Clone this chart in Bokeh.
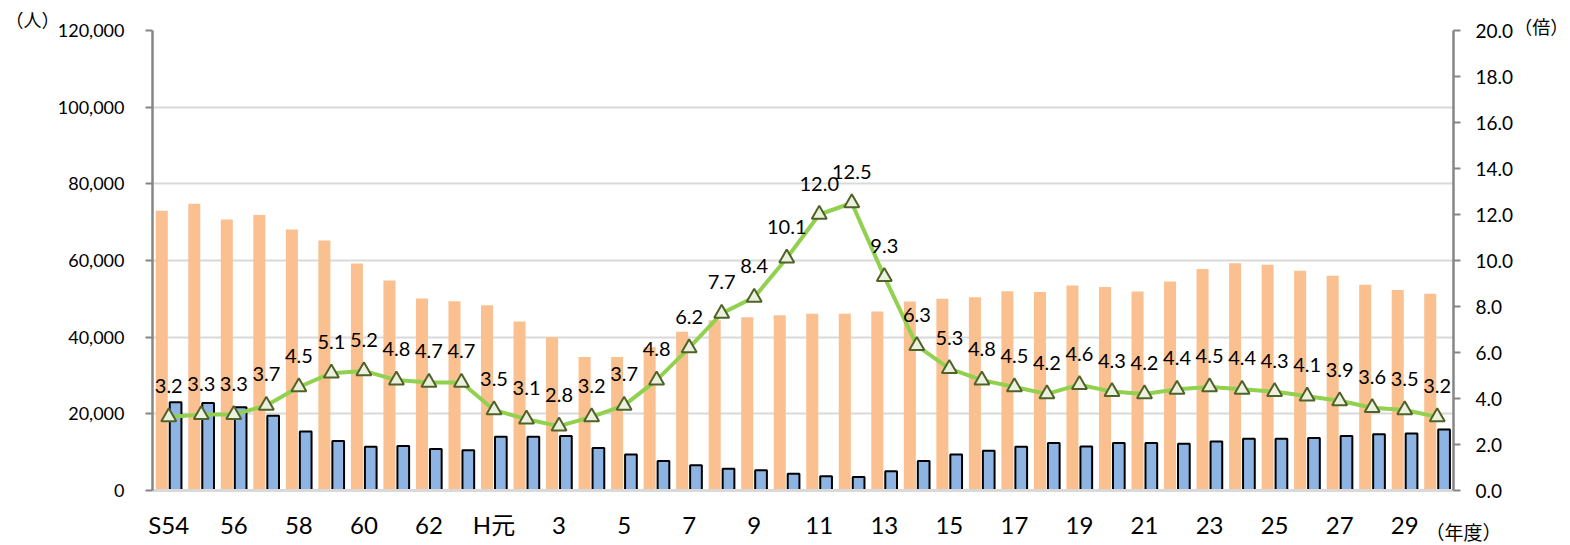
from bokeh.plotting import figure
from bokeh.models import (Range1d, LinearAxis, FixedTicker, NumeralTickFormatter,
                          PrintfTickFormatter, ColumnDataSource, LabelSet, Label)
from bokeh.core.properties import value
from bokeh.embed import file_html
from bokeh.resources import INLINE

# ---- data ----
years = ["S54", "S55", "S56", "S57", "S58", "S59", "S60", "S61", "S62", "S63",
         "H元", "H2", "H3", "H4", "H5", "H6", "H7", "H8", "H9", "H10",
         "H11", "H12", "H13", "H14", "H15", "H16", "H17", "H18", "H19", "H20",
         "H21", "H22", "H23", "H24", "H25", "H26", "H27", "H28", "H29", "H30"]
tick_labels = ["S54", "56", "58", "60", "62", "H元", "3", "5", "7", "9",
               "11", "13", "15", "17", "19", "21", "23", "25", "27", "29"]
applicants = [73000, 74800, 70700, 71900, 68100, 65200, 59200, 54800, 50100, 49400,
              48300, 44100, 40000, 34800, 34800, 37400, 41400, 44400, 45200, 45700,
              46100, 46100, 46700, 49300, 50000, 50400, 52000, 51800, 53500, 53100,
              51900, 54500, 57800, 59300, 58900, 57300, 56000, 53700, 52300, 51300]
recruited = [23000, 22800, 21700, 19500, 15400, 12900, 11400, 11600, 10800, 10500,
             14000, 14000, 14200, 11100, 9400, 7700, 6600, 5700, 5300, 4400,
             3700, 3500, 5000, 7700, 9400, 10400, 11400, 12400, 11500, 12400,
             12400, 12200, 12800, 13500, 13500, 13700, 14200, 14700, 14900, 15900]
ratio = [3.2, 3.3, 3.3, 3.7, 4.5, 5.1, 5.2, 4.8, 4.7, 4.7,
         3.5, 3.1, 2.8, 3.2, 3.7, 4.8, 6.2, 7.7, 8.4, 10.1,
         12.0, 12.5, 9.3, 6.3, 5.3, 4.8, 4.5, 4.2, 4.6, 4.3,
         4.2, 4.4, 4.5, 4.4, 4.3, 4.1, 3.9, 3.6, 3.5, 3.2]
left_ticks = [0, 20000, 40000, 60000, 80000, 100000, 120000]
right_ticks = [0, 2, 4, 6, 8, 10, 12, 14, 16, 18, 20]

idx = list(range(len(years)))
src = ColumnDataSource(dict(
    x=idx,
    xo=[i - 0.215 for i in idx],
    xb=[i + 0.21 for i in idx],
    app=applicants, rec=recruited, ratio=ratio,
    lbl=[f"{r:.1f}" for r in ratio],
))

FONT = "Lato"
CJK = "Noto Sans CJK JP"

p = figure(width=1570, height=545, x_range=Range1d(-0.5, 39.5), y_range=Range1d(0, 120000),
           output_backend="svg", toolbar_location=None,
           min_border_left=150, min_border_right=115, min_border_top=30, min_border_bottom=55)
p.outline_line_color = None
p.background_fill_color = "white"
p.extra_y_ranges = {"ratio": Range1d(0, 20)}

# grid
p.xgrid.visible = False
yt = FixedTicker(ticks=left_ticks)
p.ygrid.ticker = yt
p.ygrid.grid_line_color = "#D9D9D9"
p.ygrid.grid_line_width = 2

# left axis
ya = p.yaxis[0]
ya.ticker = yt
ya.formatter = NumeralTickFormatter(format="0,0")
ya.axis_line_color = "#868686"
ya.axis_line_width = 2.5
ya.major_tick_line_color = "#868686"
ya.major_tick_line_width = 2
ya.major_tick_out = 7
ya.major_tick_in = 0
ya.minor_tick_line_color = None
ya.major_label_standoff = 21
ya.major_label_text_font = FONT
ya.major_label_text_font_size = "18px"
ya.major_label_text_color = "black"

# right axis
ra = LinearAxis(y_range_name="ratio", ticker=FixedTicker(ticks=right_ticks),
                formatter=PrintfTickFormatter(format="%.1f"))
ra.axis_line_color = "#868686"
ra.axis_line_width = 2.5
ra.major_tick_line_color = "#868686"
ra.major_tick_line_width = 2
ra.major_tick_out = 7
ra.major_tick_in = 0
ra.minor_tick_line_color = None
ra.major_label_standoff = 15
ra.major_label_text_font = FONT
ra.major_label_text_font_size = "19px"
ra.major_label_text_color = "black"
p.add_layout(ra, "right")

# x axis
xa = p.xaxis[0]
xa.ticker = FixedTicker(ticks=list(range(0, 40, 2)))
xa.major_label_overrides = {i * 2: t for i, t in enumerate(tick_labels)}
xa.axis_line_color = "#D9D9D9"
xa.axis_line_width = 3
xa.major_tick_out = 0
xa.major_tick_in = 0
xa.minor_tick_line_color = None
xa.major_label_standoff = 19
xa.major_label_text_font = "Lato, 'Noto Sans CJK JP'"
xa.major_label_text_font_size = "24px"
xa.major_label_text_color = "black"

# bars
p.vbar(x="xo", top="app", width=0.37, source=src, fill_color="#FAC090", line_color=None)
p.vbar(x="xb", top="rec", width=0.36, source=src, fill_color="#8DB4E2",
       line_color="black", line_width=2)

# ratio line
p.line(x="x", y="ratio", y_range_name="ratio", source=src, line_color="#92D050", line_width=4)
p.scatter(x="x", y="ratio", y_range_name="ratio", source=src, marker="triangle", size=15,
          fill_color="#EBF1DE", line_color="#4F6228", line_width=2)
p.add_layout(LabelSet(x="x", y="ratio", y_range_name="ratio", text="lbl", source=src,
                      y_offset=31, text_align="center", text_baseline="middle",
                      text_font=value(FONT), text_font_size="20px", text_color="black"))

# unit labels (placed in side panels with spare room, so they are not clipped)
p.add_layout(Label(x=-4.19, y=123100, text="（人）", text_align="center", text_baseline="middle",
                   text_font=CJK, text_font_size="18px", text_color="black"), "left")
p.add_layout(Label(x=42.2, y=121300, text="（倍）", text_align="center", text_baseline="middle",
                   text_font=CJK, text_font_size="18px", text_color="black"), "right")
p.add_layout(Label(x=39.81, y=-10700, text="（年度）", text_align="center", text_baseline="middle",
                   text_font=CJK, text_font_size="19px", text_color="black"), "above")

open("out.html", "w").write(file_html(p, INLINE))
